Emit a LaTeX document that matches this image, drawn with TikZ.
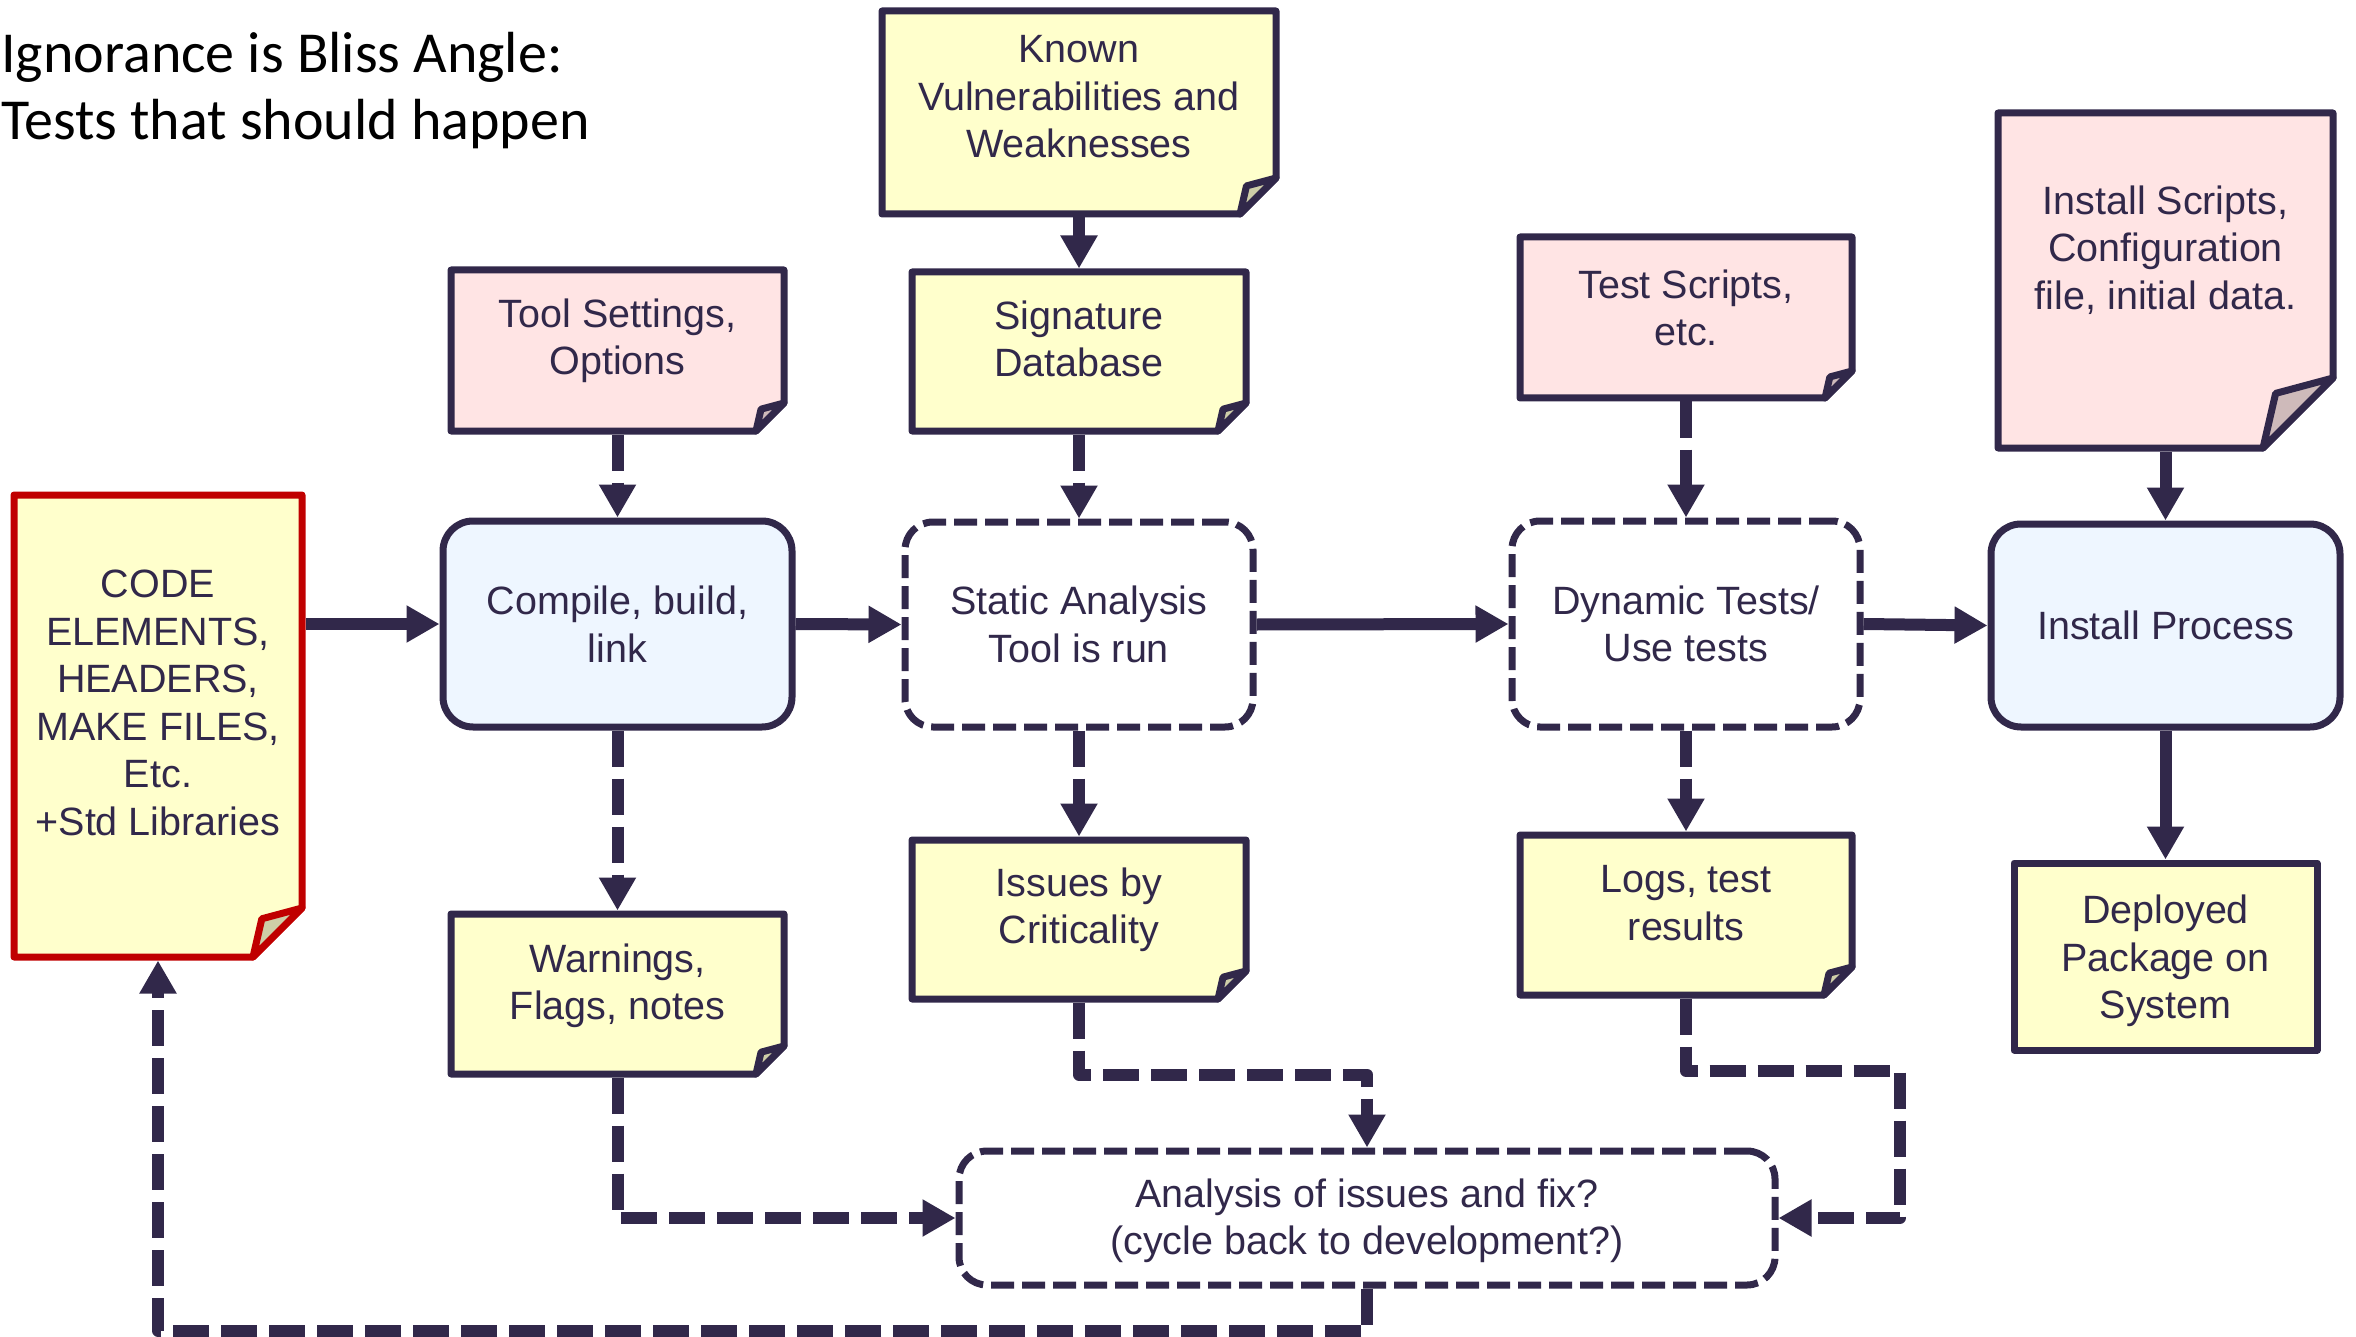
\documentclass[tikz,border=0pt]{standalone}
\usepackage{fontspec}
\setmainfont{Liberation Sans}
\newfontfamily\titlefont{Carlito}
\usetikzlibrary{arrows.meta}

\definecolor{ink}{RGB}{49,40,74}
\definecolor{noteyellow}{RGB}{255,255,204}
\definecolor{notepink}{RGB}{255,228,228}
\definecolor{foldyellow}{RGB}{206,206,168}
\definecolor{foldpink}{RGB}{206,186,186}
\definecolor{procblue}{RGB}{238,246,255}
\definecolor{codered}{RGB}{192,0,0}

\tikzset{
  boxline/.style={draw=ink, line width=7pt, line join=round},
  yellow note/.style={boxline, fill=noteyellow},
  pink note/.style={boxline, fill=notepink},
  red note/.style={boxline, draw=codered, fill=noteyellow},
  yellow fold/.style={boxline, fill=foldyellow},
  pink fold/.style={boxline, fill=foldpink},
  red fold/.style={boxline, draw=codered, fill=foldyellow},
  area/.style={rectangle, inner sep=0pt, outer sep=3.5pt},
  boxtext/.style={text=ink, align=center, inner sep=0pt,
    font=\fontsize{39.5}{47.5}\selectfont},
  procbox/.style={area, boxline, rounded corners=30pt, fill=procblue, boxtext},
  dashbox/.style={area, boxline, rounded corners=28pt, fill=white,
    dash pattern=on 23pt off 8pt, boxtext},
  plainbox/.style={area, boxline, fill=noteyellow},
  conn/.style={draw=ink, line width=12pt, line join=round,
    -{Triangle[length=33pt,width=35pt]}},
  dconn/.style={conn, dash pattern=on 36pt off 12pt},
  titletext/.style={anchor=base west, inner sep=0pt, text=black,
    font=\titlefont\fontsize{58}{66}\selectfont},
}

% sticky note with a curled lower-right corner
% #1 name, #2 left, #3 top, #4 right, #5 bottom, #6 curl size,
% #7 kind (yellow/pink/red), #8 text, #9 text centre y
\newcommand\stickynote[9]{%
  \draw[#7 note] ({#2},{#3}) -- ({#4},{#3}) -- ({#4},{#5-#6})
    -- ({#4-#6},{#5}) -- ({#2},{#5}) -- cycle;
  \draw[#7 fold] ({#4},{#5-#6}) -- ({#4-0.82*#6},{#5-0.78*#6})
    -- ({#4-#6},{#5}) -- cycle;
  \node[area, minimum width={(#4-#2)*1pt}, minimum height={(#5-#3)*1pt}]
    (#1) at ({(#2+#4)/2},{(#3+#5)/2}) {};
  \node[boxtext] (#1t) at ({(#2+#4)/2},{#9}) {#8};
}

\begin{document}
\begin{tikzpicture}[x=1pt, y=-1pt]
\useasboundingbox (0,0) rectangle (2356,1337);

% heading
\node[titletext] (title1) at (1,73) {Ignorance is Bliss Angle:};
\node[titletext] (title2) at (1,140) {Tests that should happen};

% inputs and outputs
\stickynote{known}{882}{11}{1276}{214}{36}{yellow}{Known\\Vulnerabilities and\\Weaknesses}{97}
\stickynote{sig}{912}{272}{1246}{431}{28}{yellow}{Signature\\Database}{339}
\stickynote{tool}{451}{270}{784}{431}{28}{pink}{Tool Settings,\\Options}{341}
\stickynote{test}{1520}{237}{1852}{398}{27}{pink}{Test Scripts,\\etc.}{308}
\stickynote{inst}{1998}{113}{2333}{448}{70}{pink}{Install Scripts,\\Configuration\\file, initial data.}{250}
\stickynote{code}{14}{495}{302}{957}{49}{red}{CODE\\ELEMENTS,\\HEADERS,\\MAKE FILES,\\Etc.\\+Std Libraries}{703}
\stickynote{warn}{451}{914}{784}{1074}{28}{yellow}{Warnings,\\Flags, notes}{986}
\stickynote{issues}{912}{840}{1246}{999}{28}{yellow}{Issues by\\Criticality}{910}
\stickynote{logs}{1520}{835}{1852}{995}{28}{yellow}{Logs, test\\results}{903}
\node[plainbox, minimum width=303pt, minimum height=187pt] (deployed)
  at (2165.5,956.5) {};
\node[boxtext] (deployedt) at (2165.5,961) {Deployed\\Package on\\System};

% process steps
\node[procbox, minimum width=349pt, minimum height=206pt] (compile)
  at (617.5,624) {Compile, build,\\link};
\node[dashbox, minimum width=348pt, minimum height=205pt] (static)
  at (1079,624.5) {Static Analysis\\Tool is run};
\node[dashbox, minimum width=348pt, minimum height=206pt] (dynamic)
  at (1686,624) {Dynamic Tests/\\Use tests};
\node[procbox, minimum width=349pt, minimum height=203pt] (install)
  at (2165.5,625.5) {Install Process};
\node[dashbox, minimum width=816pt, minimum height=134pt] (analysis)
  at (1367,1218) {};
\node[boxtext] (analysist) at (1367,1221)
  {Analysis of issues and fix?\\(cycle back to development?)};

% main flow
\draw[conn] (code.east |- compile.west) -- (compile.west);
\draw[conn] (compile.east) -- (static.west);
\draw[conn] (static.east) -- (dynamic.west);
\draw[conn] (dynamic.east) -- (install.west);
\draw[conn] (known.south) -- (sig.north);
\draw[conn] (inst.south) -- (install.north);
\draw[conn] (install.south) -- (deployed.north);

% supporting inputs and results
\draw[dconn] (sig.south) -- (static.north);
\draw[dconn] (tool.south) -- (compile.north);
\draw[dconn] (compile.south) -- (warn.north);
\draw[dconn] (static.south) -- (issues.north);
\draw[dconn] (test.south) -- (dynamic.north);
\draw[dconn] (dynamic.south) -- (logs.north);

% feedback into the analysis step and back to the code
\coordinate (logbend) at (1900,1071);
\draw[dconn] (issues.south) -- ++(0,72) -| (analysis.north);
\draw[dconn] (logs.south) |- (logbend) |- (analysis.east);
\draw[dconn] (warn.south) |- (analysis.west);
\draw[dconn] (analysis.south) -- ++(0,42) -| (code.south);
\end{tikzpicture}
\end{document}
